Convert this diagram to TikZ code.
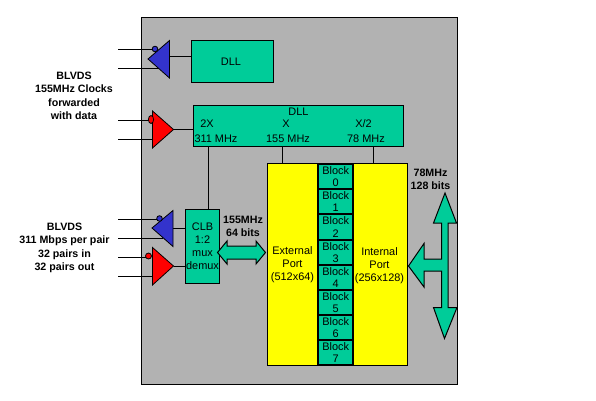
\documentclass[tikz,border=0pt]{standalone}
\usepackage{fontspec}
\setmainfont{Liberation Sans}
\definecolor{panel}{RGB}{178,178,178}
\definecolor{teal}{RGB}{0,204,153}
\definecolor{blu}{RGB}{51,51,204}
\definecolor{ylw}{RGB}{255,255,0}
\definecolor{rd}{RGB}{255,0,0}
\tikzset{
  x=0.75pt,y=-0.75pt,
  every node/.style={inner sep=0,outer sep=0,font=\fontsize{8.2}{10}\selectfont,align=center},
  ln/.style={draw=black,line width=0.75pt},
  box/.style={ln,fill=teal},
  port/.style={ln,fill=ylw},
  blockbox/.style={draw=black,line width=1.4pt,fill=teal},
  lab/.style={font=\fontsize{8}{10.1}\selectfont\bfseries,align=center},
  redtri/.style={ln,line width=0.6pt,fill=rd},
  blutri/.style={ln,line width=0.6pt,fill=blu},
  wire/.style={ln},
  big/.style={ln,fill=teal}
}
\begin{document}
\begin{tikzpicture}
\useasboundingbox (0,0) rectangle (596,400);
\fill[white] (0,0) rectangle (596,400);
\draw[ln,fill=panel] (141.5,17.5) rectangle (457.5,384.5);

% coordinates of wire ends
\coordinate (a1) at (118,49.5); \coordinate (a1e) at (153,49.5);
\coordinate (a2) at (118,68.5); \coordinate (a2e) at (160,68.5);
\coordinate (b1) at (118,120.5); \coordinate (b1e) at (149,120.5);
\coordinate (b2) at (118,139.5); \coordinate (b2e) at (152.5,139.5);
\coordinate (c1) at (118,219.5); \coordinate (c1e) at (157,219.5);
\coordinate (c2) at (118,238.5); \coordinate (c2e) at (163,238.5);
\coordinate (d1) at (118,257.5); \coordinate (d1e) at (146,257.5);
\coordinate (d2) at (118,276.5); \coordinate (d2e) at (152.5,276.5);
\coordinate (ao) at (169.5,56.5);
\coordinate (bo) at (173.5,129.5);
\coordinate (co) at (173,228.5);
\coordinate (do) at (173.5,266.5);

\foreach \p/\q in {a1/a1e,a2/a2e,b1/b1e,b2/b2e,c1/c1e,c2/c2e,d1/d1e,d2/d2e}
  \draw[wire] (\p) -- (\q);

% boxes
\node[box,minimum width=61.5pt,minimum height=31.5pt,anchor=north west] (dllA) at (191.5,40.5) {};
\node at (231,61.5) {DLL};
\node[box,minimum width=157.5pt,minimum height=31pt,anchor=north west] (dllB) at (193.5,105.5) {};
\node[box,minimum width=25.5pt,minimum height=55.5pt,anchor=north west] (clb) at (185.5,209.5) {};
\node[port,minimum width=105pt,minimum height=151.5pt,anchor=north west] (ext) at (267.5,163.5) {};
\coordinate (int) at (373.5,163.5);

% wires to boxes
\draw[wire] (ao) -- (ao -| dllA.west);
\draw[wire] (bo) -- (bo -| dllB.west);
\draw[wire] (co) -- (co -| clb.west);
\draw[wire] (do) -- (do -| clb.west);
\coordinate (t1) at (208.5,146.5);
\coordinate (t2) at (282.5,146.5);
\coordinate (t3) at (373.5,146.5);
\draw[wire] (t1) -- (t1 |- clb.north);
\draw[wire] (t2) -- (t2 |- ext.north);
\draw[wire] (t3) -- (int);

% receivers and drivers
\draw[blutri] (148,59) -- (169.5,40.5) -- (169.5,78) -- cycle;
\draw[blutri] (155,49) circle[radius=2.8];
\draw[redtri] (152.5,111) -- (152.5,148) -- (173.5,129.5) -- cycle;
\draw[redtri] (151,119.5) ellipse[x radius=2.6,y radius=4];
\draw[blutri] (152,228) -- (173,210.5) -- (173,246.5) -- cycle;
\draw[blutri] (159.5,218.5) circle[radius=2.8];
\draw[redtri] (152.5,247.5) -- (152.5,285) -- (173.5,266) -- cycle;
\draw[redtri] (148.5,256) circle[radius=3];

% memory blocks
\foreach \n/\t/\b in {0/164/189,1/189/214,2/214/240,3/240/265,4/265/290,5/290/315,6/315/340,7/340/365}{
  \draw[blockbox] (318,\t) rectangle (353,\b);
  \node[font=\fontsize{8.2}{9.4}\selectfont] (blk\n) at (335.75,{(\t+\b)/2}) {Block\\\n};
}

% box texts
\node at (298.5,111.5) {DLL};
\node at (207,123.5) {2X};
\node at (286,123.5) {X};
\node at (363.5,123.5) {X/2};
\node at (216,139) {311 MHz};
\node at (288,139) {155 MHz};
\node at (366,139) {78 MHz};
\node[font=\fontsize{8.2}{9.75}\selectfont] at (202.5,246) {CLB\\1:2\\mux\\demux};
\node[font=\fontsize{8.2}{9.75}\selectfont] at (292.5,265) {External\\Port\\(512x64)};
\node[font=\fontsize{8.2}{9.75}\selectfont] at (379.5,266) {Internal\\Port\\(256x128)};

% bidirectional buses
\draw[big] (217.5,252.5) -- (227,241) -- (227,246) -- (256,246) -- (256,241) -- (265.5,252.5)
  -- (256,264) -- (256,259) -- (227,259) -- (227,264) -- cycle;
\draw[big] (445,193) -- (456.5,223) -- (448,223) -- (448,307.5) -- (457,307.5) -- (444.5,338.5)
  -- (433.5,307.5) -- (441.5,307.5) -- (441.5,271) -- (424,271) -- (424,287) -- (408.5,266)
  -- (424,243.5) -- (424,259) -- (441.5,259) -- (441.5,223) -- (433.5,223) -- cycle;

% labels
\node[lab] at (74,96) {BLVDS\\155MHz Clocks\\forwarded\\with data};
\node[lab] at (64.5,248) {BLVDS\\311 Mbps per pair\\32 pairs in\\32 pairs out};
\node[lab] at (243,226.5) {155MHz\\64 bits};
\node[lab] at (430.5,179.5) {78MHz\\128 bits};
\end{tikzpicture}
\end{document}
